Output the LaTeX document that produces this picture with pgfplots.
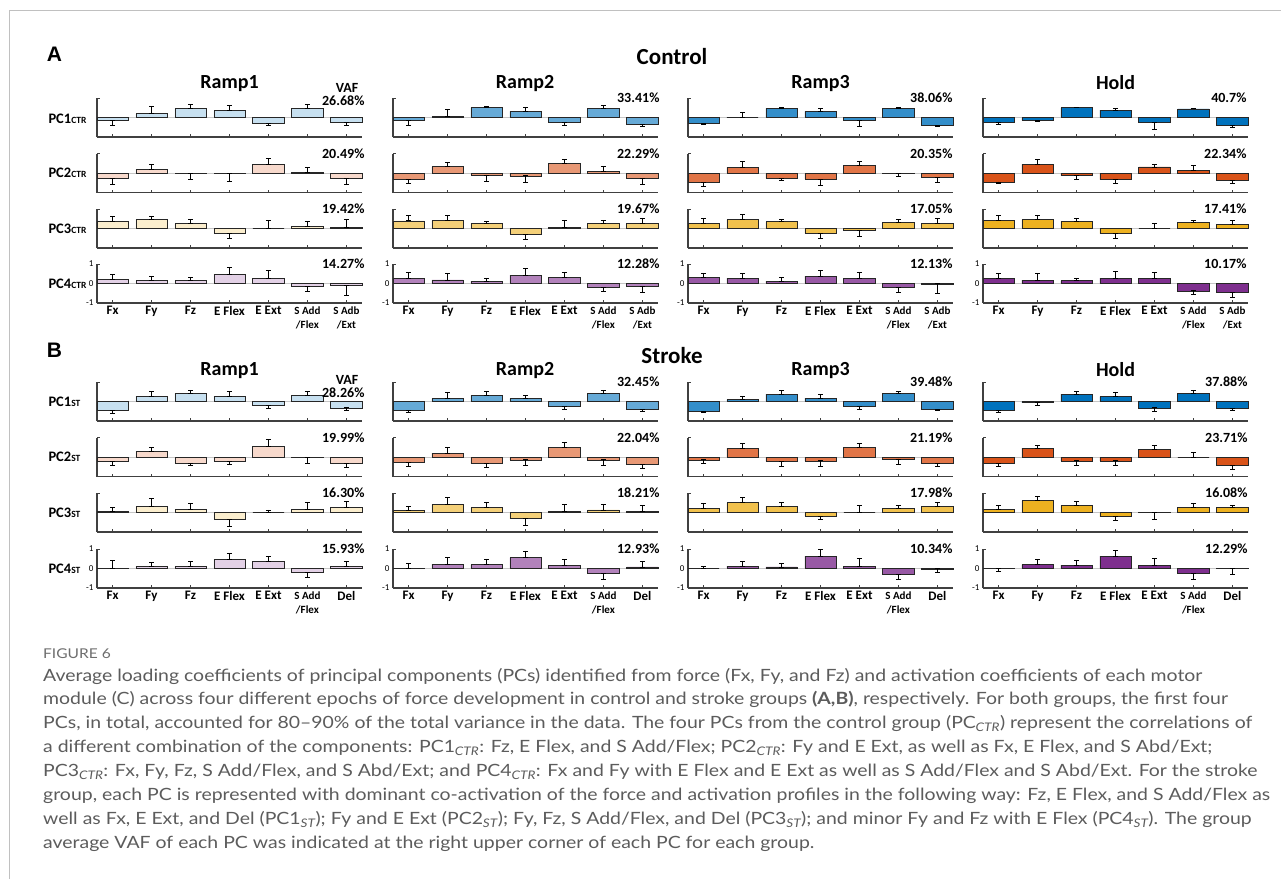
\documentclass[border=0pt]{standalone}
\usepackage{pgfplots}
\pgfplotsset{compat=1.18}
\usepackage{pgfplotstable}
\usepackage{fontspec}
\setmainfont{Lato}[FakeStretch=1.15]
\newfontfamily\cf{Carlito}
\newfontfamily\lf{Liberation Sans}

% base colours of the four components, lightened per epoch
\definecolor{mB}{RGB}{0,114,189}
\definecolor{mO}{RGB}{217,83,25}
\definecolor{mY}{RGB}{237,177,32}
\definecolor{mP}{RGB}{126,47,142}
\definecolor{capgray}{RGB}{92,92,92}
\definecolor{figgray}{RGB}{110,110,110}
\definecolor{framegray}{RGB}{192,192,192}

% loadings: v = mean loading, e = SD (sign gives the side of the error bar)
% Control group
\pgfplotstableread{
x v1 e1 v2 e2 v3 e3 v4 e4
1 -0.15 -0.24 -0.30 -0.30 0.36 0.26 0.20 0.26
2 0.19 0.37 0.20 0.23 0.48 0.14 0.15 0.21
3 0.46 0.22 -0.02 -0.31 0.24 0.24 0.14 0.17
4 0.34 0.26 -0.01 -0.42 -0.24 -0.26 0.48 0.32
5 -0.29 -0.10 0.42 0.33 0.00 0.41 0.27 0.38
6 0.46 0.22 0.02 0.28 0.10 0.26 -0.15 -0.24
7 -0.26 -0.13 -0.27 -0.33 0.05 0.39 -0.12 -0.48
}\cRa
\pgfplotstableread{
x v1 e1 v2 e2 v3 e3 v4 e4
1 -0.14 -0.27 -0.32 -0.21 0.39 0.29 0.27 0.28
2 0.05 0.36 0.32 0.21 0.41 0.25 0.18 0.34
3 0.51 0.05 -0.10 -0.32 0.27 0.10 0.12 0.13
4 0.31 0.23 -0.15 -0.34 -0.29 -0.29 0.43 0.32
5 -0.25 -0.16 0.49 0.20 0.07 0.34 0.30 0.28
6 0.47 0.14 0.07 0.25 0.27 0.14 -0.18 -0.24
7 -0.36 -0.08 -0.29 -0.32 0.27 0.27 -0.15 -0.33
}\cRb
\pgfplotstableread{
x v1 e1 v2 e2 v3 e3 v4 e4
1 -0.30 -0.07 -0.47 -0.22 0.27 0.23 0.29 0.21
2 0.00 0.27 0.29 0.29 0.46 0.28 0.27 0.23
3 0.47 0.05 -0.27 -0.09 0.34 0.10 0.12 0.19
4 0.32 0.12 -0.31 -0.32 -0.25 -0.27 0.38 0.29
5 -0.15 -0.32 0.37 0.24 -0.08 -0.34 0.27 0.31
6 0.47 0.05 -0.02 -0.18 0.32 0.12 -0.19 -0.25
7 -0.40 -0.07 -0.24 -0.25 0.25 0.25 -0.02 -0.51
}\cRc
\pgfplotstableread{
x v1 e1 v2 e2 v3 e3 v4 e4
1 -0.27 -0.07 -0.46 -0.10 0.41 0.27 0.27 0.24
2 -0.15 -0.07 0.44 0.24 0.46 0.22 0.17 0.33
3 0.50 0.03 -0.14 -0.17 0.36 0.17 0.14 0.12
4 0.38 0.06 -0.34 -0.17 -0.26 -0.27 0.27 0.36
5 -0.26 -0.35 0.31 0.15 0.00 0.24 0.24 0.34
6 0.44 0.04 0.12 0.29 0.29 0.10 -0.38 -0.18
7 -0.39 -0.10 -0.36 -0.15 0.20 0.21 -0.46 -0.26
}\cH
% Stroke group
\pgfplotstableread{
x v1 e1 v2 e2 v3 e3 v4 e4
1 -0.45 -0.18 -0.22 -0.21 0.05 0.23 0.02 0.40
2 0.27 0.25 0.30 0.20 0.30 0.40 0.12 0.21
3 0.43 0.12 -0.32 -0.13 0.17 0.30 0.10 0.25
4 0.27 0.26 -0.22 -0.18 -0.37 -0.33 0.47 0.31
5 -0.22 -0.15 0.53 0.37 0.00 0.13 0.37 0.23
6 0.30 0.22 -0.01 -0.30 0.15 0.38 -0.18 -0.29
7 -0.33 -0.14 -0.35 -0.18 0.27 0.31 0.10 0.25
}\sRa
\pgfplotstableread{
x v1 e1 v2 e2 v3 e3 v4 e4
1 -0.48 -0.07 -0.30 -0.17 0.10 0.22 0.02 0.24
2 0.15 0.32 0.20 0.27 0.42 0.35 0.22 0.34
3 0.32 0.20 -0.34 -0.20 0.25 0.27 0.19 0.30
4 0.15 0.17 -0.15 -0.27 -0.32 -0.36 0.56 0.34
5 -0.25 -0.17 0.49 0.25 0.05 0.37 0.14 0.30
6 0.42 0.15 -0.15 -0.27 0.13 0.29 -0.26 -0.28
7 -0.42 -0.10 -0.39 -0.18 0.05 0.30 0.08 0.28
}\sRb
\pgfplotstableread{
x v1 e1 v2 e2 v3 e3 v4 e4
1 -0.50 -0.07 -0.15 -0.17 0.22 0.26 0.00 0.12
2 0.10 0.17 0.45 0.25 0.50 0.25 0.12 0.23
3 0.38 0.19 -0.23 -0.27 0.32 0.21 0.08 0.20
4 0.18 0.20 -0.20 -0.28 -0.18 -0.19 0.64 0.34
5 -0.27 -0.16 0.48 0.19 0.00 0.37 0.12 0.42
6 0.43 0.09 -0.10 -0.28 0.23 0.12 -0.29 -0.25
7 -0.42 -0.06 -0.32 -0.16 0.30 0.22 -0.02 -0.16
}\sRc
\pgfplotstableread{
x v1 e1 v2 e2 v3 e3 v4 e4
1 -0.47 -0.08 -0.35 -0.13 0.17 0.20 -0.01 -0.13
2 -0.07 -0.11 0.45 0.13 0.60 0.20 0.20 0.25
3 0.38 0.14 -0.20 -0.22 0.37 0.20 0.17 0.26
4 0.25 0.23 -0.20 -0.22 -0.22 -0.21 0.63 0.29
5 -0.33 -0.19 0.40 0.18 -0.01 -0.33 0.18 0.35
6 0.43 0.14 0.00 0.22 0.25 0.22 -0.27 -0.28
7 -0.37 -0.10 -0.45 -0.18 0.25 0.12 -0.01 -0.27
}\sH

\newcommand\cb{\cf\bfseries}
\newcommand\sm{\fontsize{11}{13.5}\selectfont}

\pgfplotsset{
  pcaxis/.style={
    scale only axis, width=265pt, height=39pt,
    anchor=north west,
    xmin=0.6, xmax=7.4, ymin=-1, ymax=1,
    axis x line*=bottom, axis y line*=left,
    axis line style={black!75, line width=1.1pt},
    xtick={1,...,7}, ytick={-1,0,1},
    tick align=inside, major tick length=3pt,
    tick style={black!75, line width=0.9pt},
    xticklabels={}, yticklabels={},
    clip=false,
  },
  pcbar/.style={
    ybar, bar width=0.8, bar shift=0pt,
    draw=black!85, line width=0.8pt,
    error bars/y dir=both, error bars/y explicit,
    error bars/error bar style={black, line width=0.9pt},
    error bars/error mark options={rotate=90, black, line width=0.9pt, mark size=2.5pt},
  },
  lastrow/.style={
    yticklabels={-1,0,1},
    yticklabel style={font=\cf\fontsize{9}{9}\selectfont},
    xticklabel style={font=\cb\fontsize{13}{14}\selectfont, align=center},
  },
  ctrx/.style={lastrow,
    xticklabels={Fx,Fy,Fz,E Flex,E Ext,{\sm S Add\\\sm /Flex},{\sm S Adb\\\sm /Ext}}},
  stx/.style={lastrow,
    xticklabels={Fx,Fy,Fz,E Flex,E Ext,{\sm S Add\\\sm /Flex},Del}},
}

% one PC panel: x left, y top (from the top edge), table, PC number, fill colour, extra options
\newcommand\pc[6]{%
  \begin{axis}[pcaxis, at={(#1pt,-#2pt)}, #6]
    \addplot[gray!45, line width=0.9pt] coordinates {(0.6,0) (7.4,0)};
    \addplot[pcbar, fill=#5] table[x=x, y=v#4,
      y error plus expr={max(\thisrow{e#4},0)},
      y error minus expr={abs(min(\thisrow{e#4},0))}] {#3};
  \end{axis}}

\newcommand\pct[3]{\node[anchor=base east, font=\cb\fontsize{14}{14}\selectfont] at (#1,#2) {#3\%};}
\newcommand\pcl[3]{\node[anchor=west, font=\cb\fontsize{14.5}{14.5}\selectfont, text depth=0pt] at (45,#1) {PC#2{\fontsize{9.5}{9.5}\selectfont #3}};}
\newcommand\ttl[3]{\node[font=\cb\fontsize{20}{20}\selectfont, text depth=0pt] at (#1,#2) {#3};}
\newcommand\capline[2]{\node[anchor=base west, inner sep=0pt, text=capgray, font=\fontsize{16.9}{20}\selectfont] at (43,#1) {#2};}
\newcommand\sub[1]{\textsubscript{\itshape #1}}

\begin{document}
\begin{tikzpicture}[x=1pt, y=-1pt]
\fill[white] (0,0) rectangle (1281,879);
\path[use as bounding box] (0,0) rectangle (1281,879);
\draw[framegray, line width=1.3pt] (9.5,879) -- (9.5,10.5) -- (1281,10.5);

% ---- Control ----
\pc{97}{98}{\cRa}{1}{mB!22}{}
\pc{97}{153.5}{\cRa}{2}{mO!22}{}
\pc{97}{209}{\cRa}{3}{mY!22}{}
\pc{97}{264}{\cRa}{4}{mP!22}{ctrx}
\pc{393}{98}{\cRb}{1}{mB!60}{}
\pc{393}{153.5}{\cRb}{2}{mO!60}{}
\pc{393}{209}{\cRb}{3}{mY!60}{}
\pc{393}{264}{\cRb}{4}{mP!60}{ctrx}
\pc{688}{98}{\cRc}{1}{mB!80}{}
\pc{688}{153.5}{\cRc}{2}{mO!80}{}
\pc{688}{209}{\cRc}{3}{mY!80}{}
\pc{688}{264}{\cRc}{4}{mP!80}{ctrx}
\pc{983}{98}{\cH}{1}{mB}{}
\pc{983}{153.5}{\cH}{2}{mO}{}
\pc{983}{209}{\cH}{3}{mY}{}
\pc{983}{264}{\cH}{4}{mP}{ctrx}

% ---- Stroke ----
\pc{97}{382}{\sRa}{1}{mB!22}{}
\pc{97}{437.5}{\sRa}{2}{mO!22}{}
\pc{97}{493}{\sRa}{3}{mY!22}{}
\pc{97}{549}{\sRa}{4}{mP!22}{stx}
\pc{393}{382}{\sRb}{1}{mB!60}{}
\pc{393}{437.5}{\sRb}{2}{mO!60}{}
\pc{393}{493}{\sRb}{3}{mY!60}{}
\pc{393}{549}{\sRb}{4}{mP!60}{stx}
\pc{688}{382}{\sRc}{1}{mB!80}{}
\pc{688}{437.5}{\sRc}{2}{mO!80}{}
\pc{688}{493}{\sRc}{3}{mY!80}{}
\pc{688}{549}{\sRc}{4}{mP!80}{stx}
\pc{983}{382}{\sH}{1}{mB}{}
\pc{983}{437.5}{\sH}{2}{mO}{}
\pc{983}{493}{\sH}{3}{mY}{}
\pc{983}{549}{\sH}{4}{mP}{stx}

% panel letters and group titles
\node[font=\lf\bfseries\fontsize{21}{21}\selectfont, text depth=0pt] at (54.5,54.5) {A};
\node[font=\lf\bfseries\fontsize{21}{21}\selectfont, text depth=0pt] at (54.5,350) {B};
\node[font=\cb\fontsize{23}{23}\selectfont, text depth=0pt] at (672,56) {Control};
\node[font=\cb\fontsize{23}{23}\selectfont, text depth=0pt] at (672,355) {Stroke};

% epoch titles
\ttl{229.5}{82}{Ramp1} \ttl{525}{82}{Ramp2} \ttl{820.5}{82}{Ramp3} \ttl{1115.5}{82}{Hold}
\ttl{229.5}{369}{Ramp1} \ttl{525}{369}{Ramp2} \ttl{820.5}{369}{Ramp3} \ttl{1115.5}{369}{Hold}

% row labels
\pcl{118.5}{1}{CTR} \pcl{173}{2}{CTR} \pcl{228.5}{3}{CTR} \pcl{283.5}{4}{CTR}
\pcl{401.5}{1}{ST} \pcl{457}{2}{ST} \pcl{512.5}{3}{ST} \pcl{568.5}{4}{ST}

% VAF of each PC
\node[anchor=base, font=\cb\fontsize{14}{14}\selectfont] at (347,92.5) {VAF};
\node[anchor=base, font=\cb\fontsize{14}{14}\selectfont] at (347,384) {VAF};
\pct{368}{105.5}{26.68} \pct{368}{158}{20.49} \pct{368}{213.5}{19.42} \pct{368}{268.5}{14.27}
\pct{663}{102.5}{33.41} \pct{663}{158}{22.29} \pct{663}{213.5}{19.67} \pct{663}{268.5}{12.28}
\pct{956}{102.5}{38.06} \pct{956}{158}{20.35} \pct{956}{213.5}{17.05} \pct{956}{268.5}{12.13}
\pct{1250}{102.5}{40.7} \pct{1250}{158}{22.34} \pct{1250}{213.5}{17.41} \pct{1250}{268.5}{10.17}
\pct{368}{397.5}{28.26} \pct{368}{442}{19.99} \pct{368}{497.5}{16.30} \pct{368}{553.5}{15.93}
\pct{663}{386.5}{32.45} \pct{663}{442}{22.04} \pct{663}{497.5}{18.21} \pct{663}{553.5}{12.93}
\pct{956}{386.5}{39.48} \pct{956}{442}{21.19} \pct{956}{497.5}{17.98} \pct{956}{553.5}{10.34}
\pct{1251}{386.5}{37.88} \pct{1251}{442}{23.71} \pct{1251}{497.5}{16.08} \pct{1251}{553.5}{12.29}

% caption
\node[anchor=base west, inner sep=0pt, text=figgray, font=\fontsize{13.5}{16}\selectfont] at (43,658) {FIGURE 6};
\capline{681}{Average loading coefficients of principal components (PCs) identified from force (Fx, Fy, and Fz) and activation coefficients of each motor}
\capline{704.9}{module (C) across four different epochs of force development in control and stroke groups \textbf{(A,B)}, respectively. For both groups, the first four}
\capline{728.8}{PCs, in total, accounted for 80–90\% of the total variance in the data. The four PCs from the control group (PC\sub{CTR}) represent the correlations of}
\capline{752.7}{a different combination of the components: PC1\sub{CTR}: Fz, E Flex, and S Add/Flex; PC2\sub{CTR}: Fy and E Ext, as well as Fx, E Flex, and S Abd/Ext;}
\capline{776.6}{PC3\sub{CTR}: Fx, Fy, Fz, S Add/Flex, and S Abd/Ext; and PC4\sub{CTR}: Fx and Fy with E Flex and E Ext as well as S Add/Flex and S Abd/Ext. For the stroke}
\capline{800.5}{group, each PC is represented with dominant co-activation of the force and activation profiles in the following way: Fz, E Flex, and S Add/Flex as}
\capline{824.4}{well as Fx, E Ext, and Del (PC1\sub{ST}); Fy and E Ext (PC2\sub{ST}); Fy, Fz, S Add/Flex, and Del (PC3\sub{ST}); and minor Fy and Fz with E Flex (PC4\sub{ST}). The group}
\capline{848.3}{average VAF of each PC was indicated at the right upper corner of each PC for each group.}
\end{tikzpicture}
\end{document}
